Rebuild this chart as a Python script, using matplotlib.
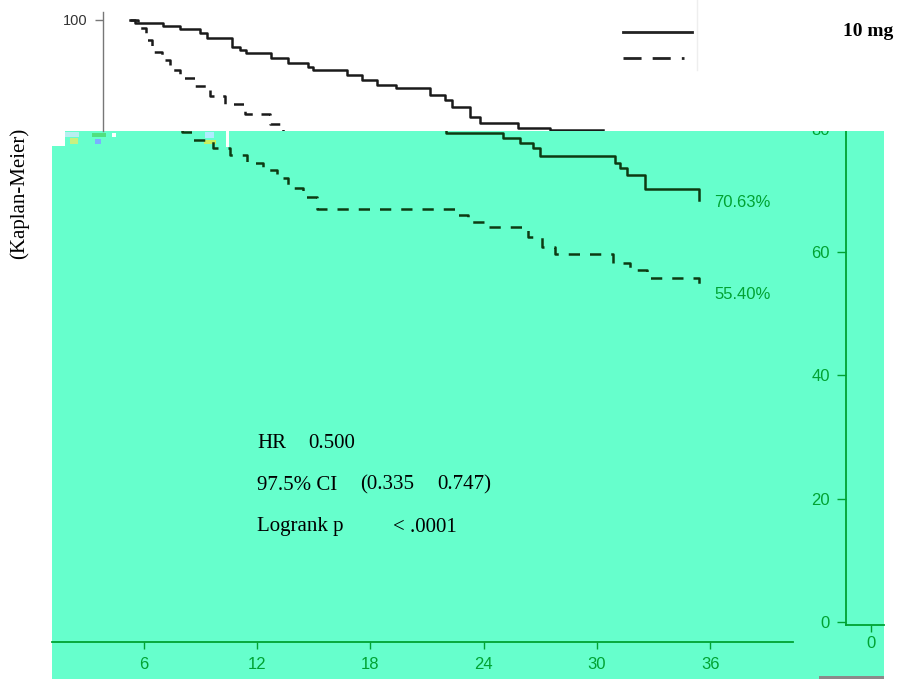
import matplotlib
matplotlib.use("Agg")
import matplotlib.pyplot as plt
from matplotlib.patches import Rectangle
from matplotlib.lines import Line2D

# --- data -------------------------------------------------------------
# upper (white) panel, black curves
top_solid_months = [0, 0.27, 1.76, 2.66, 3.72, 4.10, 5.43, 5.85, 6.17, 7.50, 8.40, 9.47,
                    9.73, 11.54, 12.34, 13.14, 14.15, 15.96, 16.76, 17.13, 18.09, 18.62,
                    20.64, 22.34, 25.16]
top_solid_surv = [100, 99.6, 99.1, 98.7, 98.1, 97.4, 96.1, 95.7, 95.2, 94.5, 93.8, 93.2,
                  92.8, 92.1, 91.4, 90.6, 90.2, 89.2, 88.5, 87.5, 86.0, 85.2,
                  84.4, 84.15, 84.15]
top_dashed_months = [0, 0.43, 0.85, 1.17, 1.70, 2.13, 2.66, 3.46, 4.26, 5.05, 6.12, 7.45, 8.14, 9.0]
top_dashed_surv = [100, 98.8, 97.1, 95.4, 94.2, 92.8, 91.6, 90.5, 89.1, 87.9, 86.5, 85.0, 83.9, 83.9]
top_yticks = [100]

# green panel curves
solid_months = [0, 22.0, 25.02, 25.93, 26.61, 26.99, 30.96, 31.23, 31.60, 32.55, 35.41, 35.41]
solid_surv = [100, 79.3, 78.5, 77.7, 76.9, 75.6, 74.5, 73.6, 72.5, 70.2, 70.2, 68.5]
dashed_months = [0, 8.01, 8.60, 9.66, 10.56, 11.46, 12.31, 13.05, 13.63, 14.43, 15.17, 22.48,
                 23.17, 24.07, 26.35, 27.09, 27.78, 30.85, 31.75, 32.65, 35.41, 35.41]
dashed_surv = [100, 79.5, 78.2, 76.9, 75.7, 74.5, 73.3, 72.0, 70.4, 68.9, 67.0, 66.0,
               64.9, 64.1, 62.5, 60.8, 59.7, 58.2, 57.1, 55.8, 55.8, 53.5]
end_labels = ["70.63%", "55.40%"]
end_label_pos = [(36.2, 68.1), (36.2, 53.2)]

km_xticks = [6, 12, 18, 24, 30, 36]
km_yticks = [0, 20, 40, 60, 80]
side_xticks = [0]

stats_lines = [["HR", "0.500"],
               ["97.5% CI", "(0.335", "0.747)"],
               ["Logrank p", "< .0001"]]

# --- layout helpers (pixels of the 898x679 picture) ---------------------
W, H = 898, 679


def box(l, t, r, b):
    return [l / W, 1 - b / H, (r - l) / W, (b - t) / H]


def fx(px):
    return px / W


def fy(py):
    return 1 - py / H


GREEN_BG = "#66ffcc"
GREEN = "#00a332"
CURVE = "#0d3a12"
SANS = "Liberation Sans"
SERIF = "Liberation Serif"

fig = plt.figure(figsize=(W / 100, H / 100), dpi=100)
fig.patch.set_facecolor("white")

# background layer
bg = fig.add_axes([0, 0, 1, 1])
bg.set_xlim(0, W)
bg.set_ylim(H, 0)
bg.axis("off")
bg.set_zorder(0)
bg.add_patch(Rectangle((52, 146), 832, 540, color=GREEN_BG, lw=0))
bg.add_patch(Rectangle((65, 131), 819, 16, color=GREEN_BG, lw=0))
# broken pixels in the strip under the white panel
for (x, y, w, h, c) in [(65, 132, 14, 5, "#b8eef0"), (70, 138, 8, 6, "#c8f080"),
                        (92, 133, 14, 4, "#50e080"), (95, 139, 6, 5, "#7ab0ff"),
                        (112, 133, 4, 4, "#ffffff"), (205, 132, 9, 6, "#b0ecff"),
                        (204, 140, 12, 4, "#c8f060"), (226, 131, 3, 16, "#ffffff")]:
    bg.add_patch(Rectangle((x, y), w, h, color=c, lw=0))
bg.add_patch(Rectangle((819, 676), 65, 3, color="#8a8a8a", lw=0))

# green Kaplan-Meier panel
ax = fig.add_axes(box(52, 0, 793, 642))
ax.set_zorder(1)
ax.patch.set_visible(False)
ax.set_xlim(1.1245, 40.39)
ax.set_ylim(-3.244, 100.89)
ax.plot(solid_months, solid_surv, drawstyle="steps-post", color=CURVE, lw=1.8)
ax.plot(dashed_months, dashed_surv, drawstyle="steps-post", color=CURVE, lw=1.8,
        linestyle=(0, (4.5, 4)))
for lab, (x, y) in zip(end_labels, end_label_pos):
    ax.text(x, y, lab, color=GREEN, fontsize=12, family=SANS, va="center", ha="left")
for s in ["top", "right", "left"]:
    ax.spines[s].set_visible(False)
ax.spines["bottom"].set_color(GREEN)
ax.spines["bottom"].set_linewidth(1.3)
ax.set_xticks(km_xticks)
ax.set_xticklabels([str(t) for t in km_xticks], family=SANS, fontsize=12, color=GREEN)
ax.tick_params(axis="x", direction="out", length=5, width=1, color=GREEN, pad=6)
ax.set_yticks([])

# small right-hand axis
side = fig.add_axes(box(846, 0, 884, 625))
side.set_zorder(1)
side.patch.set_visible(False)
side.set_xlim(-25, 13)
side.set_ylim(-0.487, 100.89)
for s in ["top", "right"]:
    side.spines[s].set_visible(False)
for s in ["left", "bottom"]:
    side.spines[s].set_color(GREEN)
    side.spines[s].set_linewidth(1.3)
side.set_yticks(km_yticks)
side.set_yticklabels([str(v) for v in km_yticks], family=SANS, fontsize=12, color=GREEN)
side.set_xticks(side_xticks)
side.set_xticklabels([str(v) for v in side_xticks], family=SANS, fontsize=12, color=GREEN)
side.tick_params(axis="y", direction="out", length=6.5, width=1, color=GREEN, pad=5)
side.tick_params(axis="x", direction="out", length=5, width=1, color=GREEN, pad=3)

# white upper panel with black curves
top = fig.add_axes(box(52, 0, 898, 131))
top.set_zorder(5)
top.set_facecolor("white")
top.set_xlim(-4.149, 40.85)
top.set_ylim(84.0, 102.88)
top.plot(top_solid_months, top_solid_surv, drawstyle="steps-post", color="#1a1a1a", lw=1.8)
top.plot(top_dashed_months, top_dashed_surv, drawstyle="steps-post", color="#1a1a1a", lw=1.8,
         linestyle=(0, (4, 3.5)))
for s in ["top", "right", "bottom"]:
    top.spines[s].set_visible(False)
top.spines["left"].set_position(("data", -1.436))
top.spines["left"].set_bounds(84.0, 101.15)
top.spines["left"].set_color("#777777")
top.spines["left"].set_linewidth(1.0)
top.set_xticks([])
top.set_yticks(top_yticks)
top.set_yticklabels([str(v) for v in top_yticks], family=SANS, fontsize=10.5, color="#333333")
top.tick_params(axis="y", direction="out", length=6, width=1, color="#777777", pad=5)

# legend marks and labels
fig.add_artist(Line2D([fx(623), fx(692)], [fy(32), fy(32)], color="#222222", lw=2.0, zorder=10))
fig.add_artist(Line2D([fx(623), fx(684)], [fy(58), fy(58)], color="#222222", lw=2.0,
                      linestyle=(0, (6.5, 4)), zorder=10))
fig.add_artist(Line2D([fx(697), fx(697)], [fy(0), fy(70)], color="#eeeeee", lw=1.0, zorder=10))
fig.text(fx(843), fy(32), "10 mg", family=SERIF, fontsize=14, fontweight="bold",
         va="center", ha="left", zorder=10)
fig.text(fx(19), fy(193), "(Kaplan-Meier)", family=SERIF, fontsize=15, rotation=90,
         va="center", ha="center", zorder=10)

# statistics block
stat_x = [[257, 308], [257, 360, 437], [257, 393]]
stat_y = [444, 485, 527]
for parts, xs, y in zip(stats_lines, stat_x, stat_y):
    for p, x in zip(parts, xs):
        fig.text(fx(x), fy(y), p, family=SERIF, fontsize=15, va="center", ha="left", zorder=10)

fig.savefig("out.png", dpi=100)
plt.close(fig)
